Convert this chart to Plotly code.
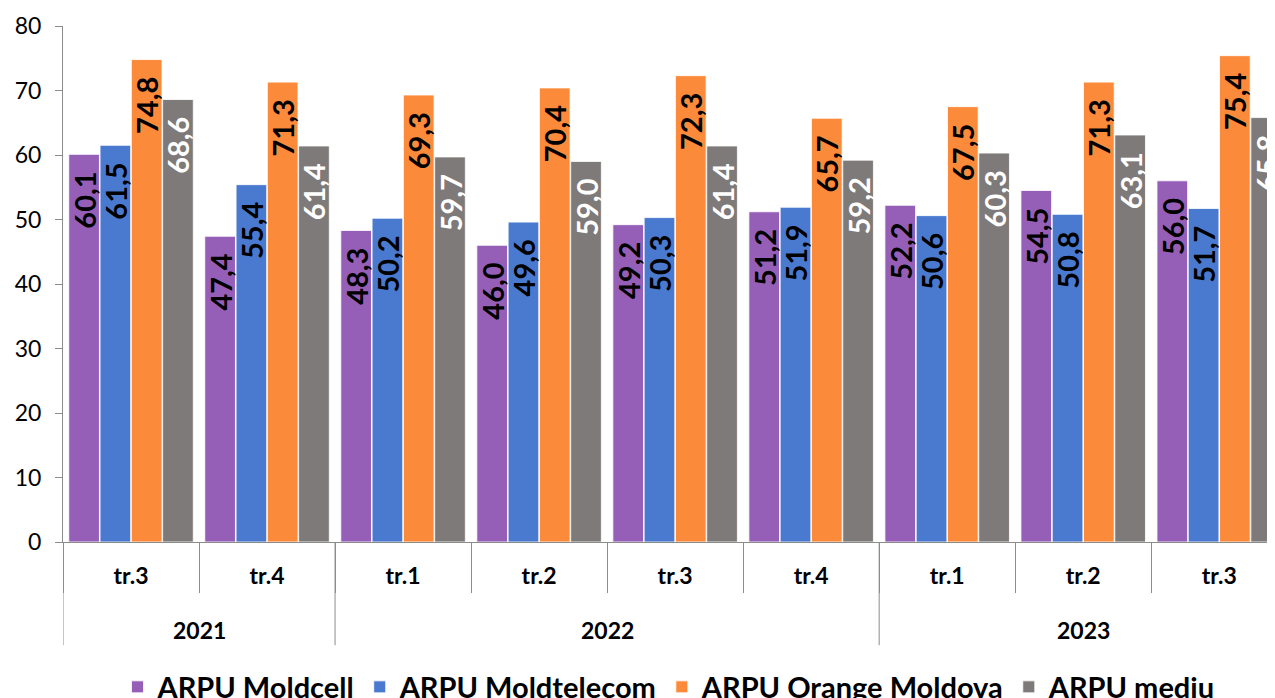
import plotly.graph_objects as go

years = ["2021", "2021", "2022", "2022", "2022", "2022", "2023", "2023", "2023"]
quarters = ["tr.3", "tr.4", "tr.1", "tr.2", "tr.3", "tr.4", "tr.1", "tr.2", "tr.3"]

moldcell = [60.1, 47.4, 48.3, 46.0, 49.2, 51.2, 52.2, 54.5, 56.0]
moldtelecom = [61.5, 55.4, 50.2, 49.6, 50.3, 51.9, 50.6, 50.8, 51.7]
orange = [74.8, 71.3, 69.3, 70.4, 72.3, 65.7, 67.5, 71.3, 75.4]
mediu = [68.6, 61.4, 59.7, 59.0, 61.4, 59.2, 60.3, 63.1, 65.8]

series = [
    ("ARPU Moldcell", moldcell, "#955FB8", "black"),
    ("ARPU Moldtelecom", moldtelecom, "#4A7ACF", "black"),
    ("ARPU Orange Moldova", orange, "#FB8A3B", "black"),
    ("ARPU mediu", mediu, "#7F7A7A", "white"),
]

font_family = "Lato"
axis_grey = "#8C8C8C"

# unique category keys, quarters shown as tick text, years as group labels below
cats = [f"{y} {q}" for y, q in zip(years, quarters)]

fig = go.Figure()
for name, vals, color, txtcolor in series:
    fig.add_trace(go.Bar(
        x=cats,
        y=vals,
        name=name,
        marker=dict(color=color, line=dict(color="rgba(255,255,255,0.8)", width=1)),
        # trailing nbsp keeps the label a bit below the bar top, like the original
        texttemplate="%{y:.1f}\u00a0\u00a0",
        textposition="inside",
        insidetextanchor="end",
        textangle=-90,
        constraintext="none",
        textfont=dict(family=font_family, size=29, color=txtcolor, weight="bold"),
    ))

# year group labels and dividers
year_list = list(dict.fromkeys(years))
annotations = []
shapes = []
for yr in year_list:
    idx = [i for i, y in enumerate(years) if y == yr]
    annotations.append(dict(
        x=sum(idx) / len(idx), xref="x",
        y=-0.17, yref="paper", yanchor="middle",
        text=yr, showarrow=False,
        font=dict(family=font_family, size=23, weight="bold", color="black"),
    ))
    shapes.append(dict(
        type="line", xref="x", yref="paper",
        x0=idx[0] - 0.5, x1=idx[0] - 0.5, y0=0, y1=-0.2,
        line=dict(color=axis_grey, width=1),
    ))

# page body has an 8px margin, so the figure is sized to the visible window
fig.update_layout(
    width=1267, height=690,
    margin=dict(l=55, r=0, t=18, b=156, autoexpand=False),
    barmode="group",
    bargap=0.08,
    bargroupgap=0.02,
    separators=",.",
    plot_bgcolor="white",
    paper_bgcolor="white",
    font=dict(family=font_family, color="black"),
    showlegend=True,
    legend=dict(
        orientation="h",
        x=0.5, xanchor="center",
        y=-0.281, yanchor="middle",
        font=dict(size=29, weight="bold"),
        traceorder="normal",
    ),
    annotations=annotations,
    shapes=shapes,
    xaxis=dict(
        type="category",
        tickvals=cats,
        ticktext=quarters,
        range=[-0.5, 8.41],
        showline=True, linecolor=axis_grey, linewidth=1,
        ticks="outside", tickson="boundaries", tickcolor=axis_grey, ticklen=50,
        ticklabelstandoff=13,
        tickfont=dict(size=23, weight="bold"),
        showgrid=False,
    ),
    yaxis=dict(
        range=[0, 80],
        dtick=10,
        showline=True, linecolor=axis_grey, linewidth=1,
        ticks="outside", tickcolor=axis_grey, ticklen=7,
        ticklabelstandoff=9,
        tickfont=dict(size=23),
        showgrid=False, zeroline=False,
    ),
)

fig.write_html("out.html")
